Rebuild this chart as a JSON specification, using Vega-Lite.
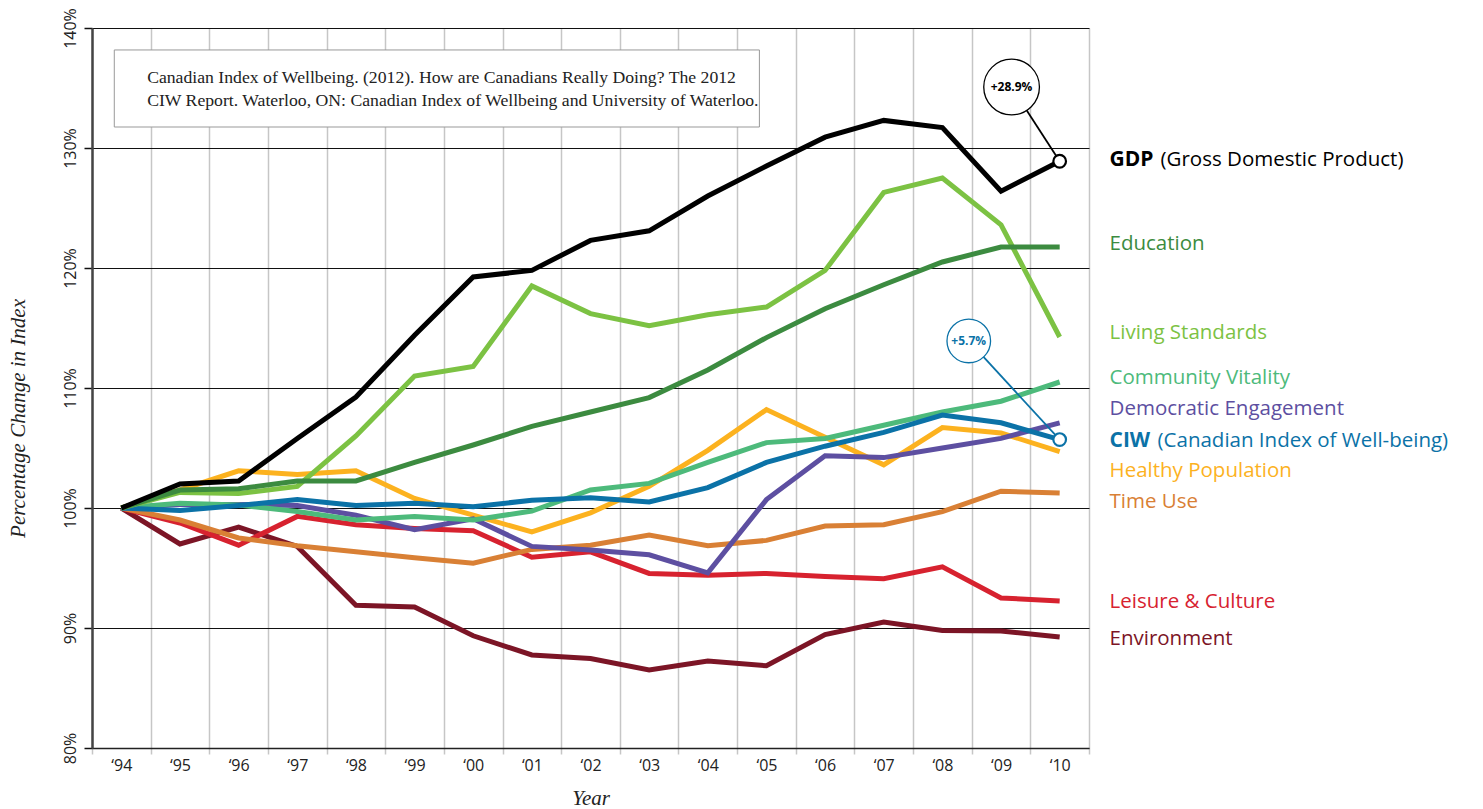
{
  "$schema": "https://vega.github.io/schema/vega-lite/v6.json",
  "width": 997,
  "height": 720,
  "autosize": {"type": "none"},
  "padding": {"left": 92, "top": 28, "right": 394, "bottom": 61},
  "background": "white",
  "config": {"view": {"stroke": null}},
  "datasets": {
    "lines": [
      {"series":"Environment","year":1994,"value":100},{"series":"Environment","year":1995,"value":97.0},{"series":"Environment","year":1996,"value":98.4},{"series":"Environment","year":1997,"value":96.8},{"series":"Environment","year":1998,"value":91.9},{"series":"Environment","year":1999,"value":91.75},{"series":"Environment","year":2000,"value":89.35},{"series":"Environment","year":2001,"value":87.75},{"series":"Environment","year":2002,"value":87.45},{"series":"Environment","year":2003,"value":86.5},{"series":"Environment","year":2004,"value":87.25},{"series":"Environment","year":2005,"value":86.85},{"series":"Environment","year":2006,"value":89.45},{"series":"Environment","year":2007,"value":90.5},{"series":"Environment","year":2008,"value":89.8},{"series":"Environment","year":2009,"value":89.75},{"series":"Environment","year":2010,"value":89.25},
      {"series":"Leisure & Culture","year":1994,"value":100},{"series":"Leisure & Culture","year":1995,"value":98.75},{"series":"Leisure & Culture","year":1996,"value":96.9},{"series":"Leisure & Culture","year":1997,"value":99.3},{"series":"Leisure & Culture","year":1998,"value":98.6},{"series":"Leisure & Culture","year":1999,"value":98.3},{"series":"Leisure & Culture","year":2000,"value":98.1},{"series":"Leisure & Culture","year":2001,"value":95.9},{"series":"Leisure & Culture","year":2002,"value":96.35},{"series":"Leisure & Culture","year":2003,"value":94.55},{"series":"Leisure & Culture","year":2004,"value":94.4},{"series":"Leisure & Culture","year":2005,"value":94.55},{"series":"Leisure & Culture","year":2006,"value":94.3},{"series":"Leisure & Culture","year":2007,"value":94.1},{"series":"Leisure & Culture","year":2008,"value":95.1},{"series":"Leisure & Culture","year":2009,"value":92.5},{"series":"Leisure & Culture","year":2010,"value":92.25},
      {"series":"Time Use","year":1994,"value":100},{"series":"Time Use","year":1995,"value":99.0},{"series":"Time Use","year":1996,"value":97.5},{"series":"Time Use","year":1997,"value":96.85},{"series":"Time Use","year":1998,"value":96.35},{"series":"Time Use","year":1999,"value":95.85},{"series":"Time Use","year":2000,"value":95.4},{"series":"Time Use","year":2001,"value":96.55},{"series":"Time Use","year":2002,"value":96.9},{"series":"Time Use","year":2003,"value":97.75},{"series":"Time Use","year":2004,"value":96.85},{"series":"Time Use","year":2005,"value":97.3},{"series":"Time Use","year":2006,"value":98.5},{"series":"Time Use","year":2007,"value":98.6},{"series":"Time Use","year":2008,"value":99.7},{"series":"Time Use","year":2009,"value":101.4},{"series":"Time Use","year":2010,"value":101.25},
      {"series":"Healthy Population","year":1994,"value":100},{"series":"Healthy Population","year":1995,"value":101.5},{"series":"Healthy Population","year":1996,"value":103.1},{"series":"Healthy Population","year":1997,"value":102.8},{"series":"Healthy Population","year":1998,"value":103.1},{"series":"Healthy Population","year":1999,"value":100.8},{"series":"Healthy Population","year":2000,"value":99.4},{"series":"Healthy Population","year":2001,"value":98.0},{"series":"Healthy Population","year":2002,"value":99.6},{"series":"Healthy Population","year":2003,"value":101.8},{"series":"Healthy Population","year":2004,"value":104.8},{"series":"Healthy Population","year":2005,"value":108.2},{"series":"Healthy Population","year":2006,"value":105.9},{"series":"Healthy Population","year":2007,"value":103.6},{"series":"Healthy Population","year":2008,"value":106.7},{"series":"Healthy Population","year":2009,"value":106.25},{"series":"Healthy Population","year":2010,"value":104.7},
      {"series":"Democratic Engagement","year":1994,"value":100},{"series":"Democratic Engagement","year":1995,"value":100.3},{"series":"Democratic Engagement","year":1996,"value":100.3},{"series":"Democratic Engagement","year":1997,"value":100.2},{"series":"Democratic Engagement","year":1998,"value":99.4},{"series":"Democratic Engagement","year":1999,"value":98.2},{"series":"Democratic Engagement","year":2000,"value":99.1},{"series":"Democratic Engagement","year":2001,"value":96.8},{"series":"Democratic Engagement","year":2002,"value":96.5},{"series":"Democratic Engagement","year":2003,"value":96.1},{"series":"Democratic Engagement","year":2004,"value":94.6},{"series":"Democratic Engagement","year":2005,"value":100.7},{"series":"Democratic Engagement","year":2006,"value":104.35},{"series":"Democratic Engagement","year":2007,"value":104.2},{"series":"Democratic Engagement","year":2008,"value":105.0},{"series":"Democratic Engagement","year":2009,"value":105.8},{"series":"Democratic Engagement","year":2010,"value":107.1},
      {"series":"Community Vitality","year":1994,"value":100},{"series":"Community Vitality","year":1995,"value":100.4},{"series":"Community Vitality","year":1996,"value":100.25},{"series":"Community Vitality","year":1997,"value":99.7},{"series":"Community Vitality","year":1998,"value":99.0},{"series":"Community Vitality","year":1999,"value":99.3},{"series":"Community Vitality","year":2000,"value":99.0},{"series":"Community Vitality","year":2001,"value":99.75},{"series":"Community Vitality","year":2002,"value":101.5},{"series":"Community Vitality","year":2003,"value":102.05},{"series":"Community Vitality","year":2004,"value":103.8},{"series":"Community Vitality","year":2005,"value":105.45},{"series":"Community Vitality","year":2006,"value":105.8},{"series":"Community Vitality","year":2007,"value":106.9},{"series":"Community Vitality","year":2008,"value":108.0},{"series":"Community Vitality","year":2009,"value":108.9},{"series":"Community Vitality","year":2010,"value":110.5},
      {"series":"CIW","year":1994,"value":100},{"series":"CIW","year":1995,"value":99.8},{"series":"CIW","year":1996,"value":100.2},{"series":"CIW","year":1997,"value":100.7},{"series":"CIW","year":1998,"value":100.2},{"series":"CIW","year":1999,"value":100.4},{"series":"CIW","year":2000,"value":100.1},{"series":"CIW","year":2001,"value":100.65},{"series":"CIW","year":2002,"value":100.85},{"series":"CIW","year":2003,"value":100.5},{"series":"CIW","year":2004,"value":101.7},{"series":"CIW","year":2005,"value":103.8},{"series":"CIW","year":2006,"value":105.15},{"series":"CIW","year":2007,"value":106.3},{"series":"CIW","year":2008,"value":107.75},{"series":"CIW","year":2009,"value":107.1},{"series":"CIW","year":2010,"value":105.7},
      {"series":"Living Standards","year":1994,"value":100},{"series":"Living Standards","year":1995,"value":101.3},{"series":"Living Standards","year":1996,"value":101.2},{"series":"Living Standards","year":1997,"value":101.8},{"series":"Living Standards","year":1998,"value":106.0},{"series":"Living Standards","year":1999,"value":111.0},{"series":"Living Standards","year":2000,"value":111.8},{"series":"Living Standards","year":2001,"value":118.5},{"series":"Living Standards","year":2002,"value":116.2},{"series":"Living Standards","year":2003,"value":115.2},{"series":"Living Standards","year":2004,"value":116.1},{"series":"Living Standards","year":2005,"value":116.75},{"series":"Living Standards","year":2006,"value":119.8},{"series":"Living Standards","year":2007,"value":126.3},{"series":"Living Standards","year":2008,"value":127.5},{"series":"Living Standards","year":2009,"value":123.6},{"series":"Living Standards","year":2010,"value":114.25},
      {"series":"Education","year":1994,"value":100},{"series":"Education","year":1995,"value":101.5},{"series":"Education","year":1996,"value":101.6},{"series":"Education","year":1997,"value":102.25},{"series":"Education","year":1998,"value":102.25},{"series":"Education","year":1999,"value":103.8},{"series":"Education","year":2000,"value":105.25},{"series":"Education","year":2001,"value":106.8},{"series":"Education","year":2002,"value":108.0},{"series":"Education","year":2003,"value":109.2},{"series":"Education","year":2004,"value":111.5},{"series":"Education","year":2005,"value":114.2},{"series":"Education","year":2006,"value":116.6},{"series":"Education","year":2007,"value":118.6},{"series":"Education","year":2008,"value":120.5},{"series":"Education","year":2009,"value":121.75},{"series":"Education","year":2010,"value":121.75},
      {"series":"GDP","year":1994,"value":100},{"series":"GDP","year":1995,"value":102.0},{"series":"GDP","year":1996,"value":102.25},{"series":"GDP","year":1997,"value":105.8},{"series":"GDP","year":1998,"value":109.25},{"series":"GDP","year":1999,"value":114.4},{"series":"GDP","year":2000,"value":119.25},{"series":"GDP","year":2001,"value":119.8},{"series":"GDP","year":2002,"value":122.3},{"series":"GDP","year":2003,"value":123.1},{"series":"GDP","year":2004,"value":126.0},{"series":"GDP","year":2005,"value":128.5},{"series":"GDP","year":2006,"value":130.9},{"series":"GDP","year":2007,"value":132.3},{"series":"GDP","year":2008,"value":131.7},{"series":"GDP","year":2009,"value":126.4},{"series":"GDP","year":2010,"value":128.9}
    ],
    "labels": [
      {"series":"GDP","text":"GDP","rest":"(Gross Domestic Product)","year":2010.85,"value":129.0},
      {"series":"Education","text":"Education","rest":"","year":2010.85,"value":122.0},
      {"series":"Living Standards","text":"Living Standards","rest":"","year":2010.85,"value":114.6},
      {"series":"Community Vitality","text":"Community Vitality","rest":"","year":2010.85,"value":110.8},
      {"series":"Democratic Engagement","text":"Democratic Engagement","rest":"","year":2010.85,"value":108.25},
      {"series":"CIW","text":"CIW","rest":"(Canadian Index of Well-being)","year":2010.85,"value":105.6},
      {"series":"Healthy Population","text":"Healthy Population","rest":"","year":2010.85,"value":103.1},
      {"series":"Time Use","text":"Time Use","rest":"","year":2010.85,"value":100.5},
      {"series":"Leisure & Culture","text":"Leisure & Culture","rest":"","year":2010.85,"value":92.2},
      {"series":"Environment","text":"Environment","rest":"","year":2010.85,"value":89.1}
    ],
    "callouts": [
      {"series":"GDP","text":"+28.9%","cx":2009.18,"cy":135.08,"year":2010,"value":128.9},
      {"series":"CIW","text":"+5.7%","cx":2008.45,"cy":113.92,"year":2010,"value":105.7}
    ],
    "citation": [
      {"x1":1993.88,"x2":2004.88,"y1":138.17,"y2":131.75}
    ],
    "citationText": [
      {"line":"Canadian Index of Wellbeing. (2012). How are Canadians Really Doing? The 2012","year":1994.44,"value":135.8},
      {"line":"CIW Report. Waterloo, ON: Canadian Index of Wellbeing and University of Waterloo.","year":1994.44,"value":133.9}
    ]
  },
  "encoding": {
    "x": {
      "field": "year", "type": "quantitative",
      "scale": {"domain": [1993.5, 2010.5], "nice": false, "zero": false},
      "axis": {
        "title": "Year",
        "values": [1993.5,1994.5,1995.5,1996.5,1997.5,1998.5,1999.5,2000.5,2001.5,2002.5,2003.5,2004.5,2005.5,2006.5,2007.5,2008.5,2009.5,2010.5],
        "labelExpr": "datum.value < 1994 ? '' : '‘' + substring(toString(floor(datum.value)), 2)",
        "labelOffset": -29.3,
        "labelFlush": false,
        "labelOverlap": false,
        "labelFont": "Open Sans",
        "labelFontSize": 16,
        "labelColor": "#222",
        "labelPadding": 3,
        "grid": true,
        "gridColor": "#c6c6c6",
        "gridWidth": 1.5,
        "tickColor": "#c6c6c6",
        "tickWidth": 1.5,
        "tickSize": 6,
        "domainColor": "#222",
        "domainWidth": 1.5,
        "titleFont": "Liberation Serif",
        "titleFontStyle": "italic",
        "titleFontWeight": "normal",
        "titleFontSize": 21,
        "titleColor": "#222",
        "titleY": 50,
        "titleBaseline": "middle"
      }
    },
    "y": {
      "field": "value", "type": "quantitative",
      "scale": {"domain": [80, 140], "nice": false, "zero": false},
      "axis": {
        "title": "Percentage Change in Index",
        "values": [80, 90, 100, 110, 120, 130, 140],
        "labelExpr": "datum.value + '%'",
        "labelAngle": -90,
        "labelAlign": "center",
        "labelBaseline": "bottom",
        "labelFlush": false,
        "labelFont": "Open Sans",
        "labelFontSize": 16,
        "labelColor": "#222",
        "labelPadding": 6,
        "grid": true,
        "gridColor": "#111",
        "gridWidth": 1.2,
        "tickColor": "#111",
        "tickWidth": 1.5,
        "tickSize": 8,
        "domainColor": "#444",
        "domainWidth": 2.5,
        "titleFont": "Liberation Serif",
        "titleFontStyle": "italic",
        "titleFontWeight": "normal",
        "titleFontSize": 21,
        "titleColor": "#222",
        "titleX": -74,
        "titleY": 390,
        "titleBaseline": "middle"
      }
    }
  },
  "layer": [
    {
      "data": {"name": "citation"},
      "mark": {"type": "rect", "fill": "white", "stroke": "#999", "strokeWidth": 1},
      "encoding": {
        "x": {"field": "x1", "type": "quantitative"},
        "x2": {"field": "x2"},
        "y": {"field": "y1", "type": "quantitative"},
        "y2": {"field": "y2"}
      }
    },
    {
      "data": {"name": "citationText"},
      "mark": {"type": "text", "align": "left", "baseline": "middle", "font": "Liberation Serif", "fontSize": 17.7, "color": "#222"},
      "encoding": {"text": {"field": "line"}}
    },
    {
      "data": {"name": "lines"},
      "mark": {"type": "line", "strokeWidth": 5, "strokeJoin": "miter", "strokeCap": "butt"},
      "encoding": {
        "color": {
          "field": "series", "type": "nominal", "legend": null, "sort": null,
          "scale": {
            "domain": ["GDP","Education","Living Standards","Community Vitality","Democratic Engagement","CIW","Healthy Population","Time Use","Leisure & Culture","Environment"],
            "range": ["#000000","#3c8b40","#7cc243","#4dba7b","#5d4fa1","#0b72a7","#fcb21f","#d98035","#d7222f","#7c1526"]
          }
        },
        "detail": {"field": "series"}
      }
    },
    {
      "data": {"name": "callouts"},
      "mark": {"type": "rule", "strokeWidth": 1.8},
      "encoding": {
        "x": {"field": "cx", "type": "quantitative"},
        "y": {"field": "cy", "type": "quantitative"},
        "x2": {"field": "year"},
        "y2": {"field": "value"},
        "color": {"field": "series", "type": "nominal", "legend": null}
      }
    },
    {
      "data": {"name": "callouts"},
      "mark": {"type": "point", "shape": "circle", "filled": false, "fill": "white", "fillOpacity": 1, "size": 160, "strokeWidth": 2.2, "opacity": 1},
      "encoding": {
        "color": {"field": "series", "type": "nominal", "legend": null}
      }
    },
    {
      "data": {"name": "callouts"},
      "mark": {"type": "point", "shape": "circle", "filled": false, "fill": "white", "fillOpacity": 1, "strokeWidth": 1.3, "opacity": 1},
      "encoding": {
        "x": {"field": "cx", "type": "quantitative"},
        "y": {"field": "cy", "type": "quantitative"},
        "size": {"condition": {"test": "datum.series === 'GDP'", "value": 3100}, "value": 1900},
        "color": {"field": "series", "type": "nominal", "legend": null}
      }
    },
    {
      "data": {"name": "callouts"},
      "mark": {"type": "text", "align": "center", "baseline": "middle", "font": "Open Sans", "fontWeight": "bold", "fontSize": 12},
      "encoding": {
        "x": {"field": "cx", "type": "quantitative"},
        "y": {"field": "cy", "type": "quantitative"},
        "text": {"field": "text"},
        "color": {"field": "series", "type": "nominal", "legend": null}
      }
    },
    {
      "data": {"name": "labels"},
      "transform": [{"filter": "datum.rest === ''"}],
      "mark": {"type": "text", "align": "left", "baseline": "middle", "font": "Open Sans", "fontSize": 20.5},
      "encoding": {
        "text": {"field": "text"},
        "color": {"field": "series", "type": "nominal", "legend": null}
      }
    },
    {
      "data": {"name": "labels"},
      "transform": [{"filter": "datum.rest !== ''"}],
      "mark": {"type": "text", "align": "left", "baseline": "middle", "font": "Open Sans", "fontWeight": "bold", "fontSize": 21},
      "encoding": {
        "text": {"field": "text"},
        "color": {"field": "series", "type": "nominal", "legend": null}
      }
    },
    {
      "data": {"name": "labels"},
      "transform": [{"filter": "datum.series === 'GDP'"}],
      "mark": {"type": "text", "align": "left", "baseline": "middle", "font": "Open Sans", "fontSize": 20.5, "dx": 51},
      "encoding": {
        "text": {"field": "rest"},
        "color": {"field": "series", "type": "nominal", "legend": null}
      }
    },
    {
      "data": {"name": "labels"},
      "transform": [{"filter": "datum.series === 'CIW'"}],
      "mark": {"type": "text", "align": "left", "baseline": "middle", "font": "Open Sans", "fontSize": 20.5, "dx": 48},
      "encoding": {
        "text": {"field": "rest"},
        "color": {"field": "series", "type": "nominal", "legend": null}
      }
    }
  ]
}
